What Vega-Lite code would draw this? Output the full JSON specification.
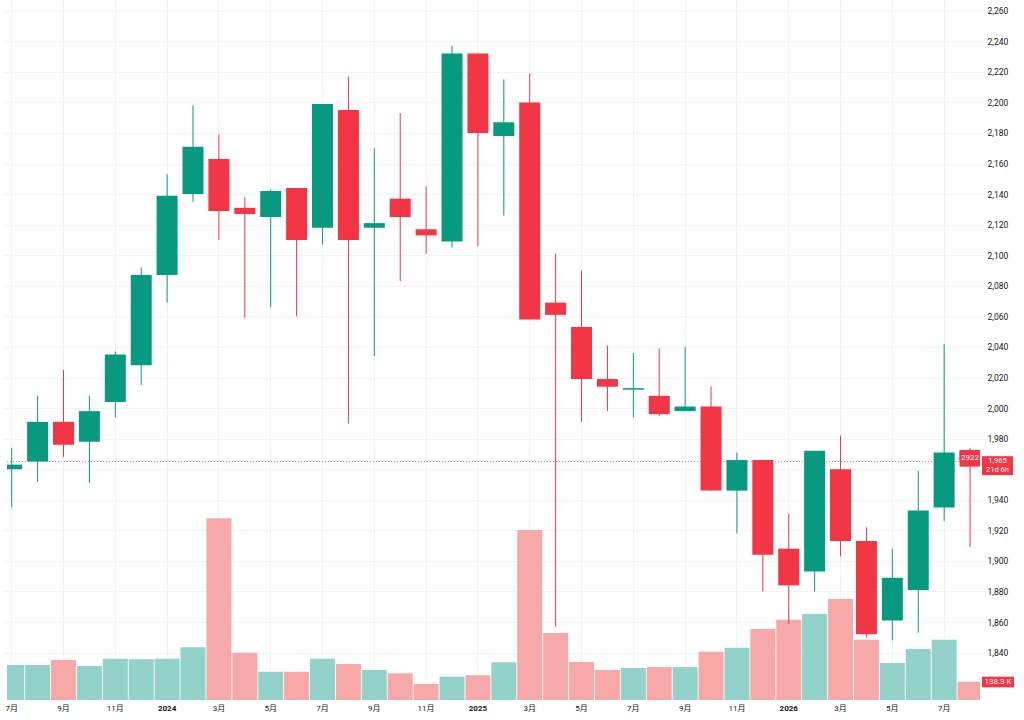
{
  "$schema": "https://vega.github.io/schema/vega-lite/v6.json",
  "width": 973,
  "height": 700,
  "autosize": {"type": "none"},
  "padding": {"left": 7, "top": 0, "right": 44, "bottom": 20},
  "background": "#ffffff",
  "config": {
    "view": {"stroke": null},
    "font": "Roboto, 'Noto Sans CJK SC', sans-serif"
  },
  "datasets": {
    "candles": [
      {"month": "2023-07", "open": 1960, "high": 1974, "low": 1935, "close": 1963, "volume": 265000},
      {"month": "2023-08", "open": 1965, "high": 2008, "low": 1952, "close": 1991, "volume": 265000},
      {"month": "2023-09", "open": 1991, "high": 2025, "low": 1968, "close": 1976, "volume": 302000},
      {"month": "2023-10", "open": 1978, "high": 2008, "low": 1951, "close": 1998, "volume": 257000},
      {"month": "2023-11", "open": 2004, "high": 2037, "low": 1994, "close": 2035, "volume": 312000},
      {"month": "2023-12", "open": 2028, "high": 2092, "low": 2015, "close": 2087, "volume": 308000},
      {"month": "2024-01", "open": 2087, "high": 2153, "low": 2069, "close": 2139, "volume": 312000},
      {"month": "2024-02", "open": 2140, "high": 2198, "low": 2135, "close": 2171, "volume": 398000},
      {"month": "2024-03", "open": 2163, "high": 2179, "low": 2110, "close": 2129, "volume": 1374000},
      {"month": "2024-04", "open": 2131, "high": 2138, "low": 2059, "close": 2127, "volume": 358000},
      {"month": "2024-05", "open": 2125, "high": 2143, "low": 2066, "close": 2142, "volume": 214000},
      {"month": "2024-06", "open": 2144, "high": 2144, "low": 2060, "close": 2110, "volume": 214000},
      {"month": "2024-07", "open": 2118, "high": 2199, "low": 2107, "close": 2199, "volume": 312000},
      {"month": "2024-08", "open": 2195, "high": 2217, "low": 1990, "close": 2110, "volume": 272000},
      {"month": "2024-09", "open": 2118, "high": 2170, "low": 2034, "close": 2121, "volume": 227000},
      {"month": "2024-10", "open": 2137, "high": 2193, "low": 2083, "close": 2125, "volume": 202000},
      {"month": "2024-11", "open": 2117, "high": 2145, "low": 2101, "close": 2113, "volume": 121000},
      {"month": "2024-12", "open": 2109, "high": 2237, "low": 2105, "close": 2232, "volume": 176000},
      {"month": "2025-01", "open": 2232, "high": 2232, "low": 2106, "close": 2180, "volume": 187000},
      {"month": "2025-02", "open": 2178, "high": 2215, "low": 2126, "close": 2187, "volume": 285000},
      {"month": "2025-03", "open": 2200, "high": 2219, "low": 2058, "close": 2058, "volume": 1285000},
      {"month": "2025-04", "open": 2069, "high": 2101, "low": 1857, "close": 2061, "volume": 506000},
      {"month": "2025-05", "open": 2053, "high": 2090, "low": 1991, "close": 2019, "volume": 287000},
      {"month": "2025-06", "open": 2019, "high": 2041, "low": 1998, "close": 2014, "volume": 227000},
      {"month": "2025-07", "open": 2012, "high": 2036, "low": 1994, "close": 2013, "volume": 242000},
      {"month": "2025-08", "open": 2008, "high": 2039, "low": 1995, "close": 1996, "volume": 249000},
      {"month": "2025-09", "open": 1998, "high": 2040, "low": 1998, "close": 2001, "volume": 249000},
      {"month": "2025-10", "open": 2001, "high": 2014, "low": 1946, "close": 1946, "volume": 365000},
      {"month": "2025-11", "open": 1946, "high": 1971, "low": 1918, "close": 1966, "volume": 395000},
      {"month": "2025-12", "open": 1966, "high": 1966, "low": 1880, "close": 1904, "volume": 537000},
      {"month": "2026-01", "open": 1908, "high": 1931, "low": 1859, "close": 1884, "volume": 607000},
      {"month": "2026-02", "open": 1893, "high": 1972, "low": 1880, "close": 1972, "volume": 650000},
      {"month": "2026-03", "open": 1960, "high": 1982, "low": 1903, "close": 1913, "volume": 764000},
      {"month": "2026-04", "open": 1913, "high": 1922, "low": 1850, "close": 1852, "volume": 456000},
      {"month": "2026-05", "open": 1861, "high": 1908, "low": 1848, "close": 1889, "volume": 280000},
      {"month": "2026-06", "open": 1881, "high": 1959, "low": 1853, "close": 1933, "volume": 386000},
      {"month": "2026-07", "open": 1935, "high": 2042, "low": 1926, "close": 1971, "volume": 456000},
      {"month": "2026-08", "open": 1972, "high": 1974, "low": 1909, "close": 1965, "volume": 138300}
    ],
    "last": [
      {"month": "2026-08", "price": 1965, "volume": 138300, "volume_text": "138.3 K", "timer": "21d 6h", "count": "2922"}
    ]
  },
  "layer": [
    {
      "layer": [
        {
          "data": {"name": "candles"},
          "mark": {"type": "bar", "size": 25, "clip": true},
          "encoding": {
            "x": {
              "field": "month",
              "type": "ordinal",
              "title": null,
              "scale": {"type": "band", "range": [-8.25, 976], "paddingInner": 0, "paddingOuter": 0},
              "axis": {
                "values": ["2023-07", "2023-09", "2023-11", "2024-01", "2024-03", "2024-05", "2024-07", "2024-09", "2024-11", "2025-01", "2025-03", "2025-05", "2025-07", "2025-09", "2025-11", "2026-01", "2026-03", "2026-05", "2026-07"],
                "labelExpr": "substring(datum.value, 5, 7) == '01' ? substring(datum.value, 0, 4) : toNumber(substring(datum.value, 5, 7)) + '月'",
                "labelFontWeight": {"condition": {"test": "substring(datum.value, 5, 7) == '01'", "value": "bold"}, "value": "normal"},
                "labelAngle": 0,
                "labelFontSize": 8,
                "labelColor": "#131722",
                "labelPadding": 4,
                "ticks": false,
                "domain": false,
                "grid": true,
                "gridColor": "#f0f3fa",
                "bandPosition": 0.5
              }
            },
            "y": {
              "field": "volume",
              "type": "quantitative",
              "scale": {"domain": [0, 5292000], "nice": false},
              "axis": null
            },
            "color": {
              "condition": {"test": "datum.close >= datum.open", "value": "#92d2c8"},
              "value": "#f7a9a9"
            }
          }
        },
        {
          "data": {"name": "last"},
          "mark": {"type": "rect", "color": "#f23645", "xOffset": 2, "x2Offset": 34, "yOffset": -5, "y2Offset": 5.6},
          "encoding": {
            "x": {"value": "width"},
            "x2": {"value": "width"},
            "y": {"field": "volume", "type": "quantitative"},
            "y2": {"field": "volume"}
          }
        },
        {
          "data": {"name": "last"},
          "mark": {"type": "text", "color": "#ffffff", "fontSize": 8, "align": "center", "baseline": "middle", "dx": 18},
          "encoding": {
            "x": {"value": "width"},
            "y": {"field": "volume", "type": "quantitative"},
            "text": {"field": "volume_text"}
          }
        }
      ]
    },
    {
      "layer": [
        {
          "data": {"name": "last"},
          "mark": {"type": "rule", "color": "#f23645", "strokeDash": [1, 2], "opacity": 0.7},
          "encoding": {
            "y": {
              "field": "price",
              "type": "quantitative",
              "scale": {"domain": [1809, 2267], "nice": false, "zero": false},
              "axis": {
                "orient": "right",
                "title": null,
                "values": [1840, 1860, 1880, 1900, 1920, 1940, 1960, 1980, 2000, 2020, 2040, 2060, 2080, 2100, 2120, 2140, 2160, 2180, 2200, 2220, 2240, 2260],
                "tickCount": 40,
                "format": ",d",
                "labelAlign": "left",
                "labelPadding": 7,
                "labelFontSize": 8.5,
                "labelColor": "#131722",
                "labelOverlap": false,
                "ticks": false,
                "domain": false,
                "grid": true,
                "gridColor": "#f0f3fa"
              }
            }
          }
        },
        {
          "data": {"name": "candles"},
          "mark": {"type": "rule", "strokeWidth": 1},
          "encoding": {
            "x": {"field": "month", "type": "ordinal"},
            "y": {"field": "low", "type": "quantitative"},
            "y2": {"field": "high"},
            "color": {
              "condition": {"test": "datum.close >= datum.open", "value": "#089981"},
              "value": "#f23645"
            }
          }
        },
        {
          "data": {"name": "candles"},
          "mark": {"type": "bar", "size": 21, "clip": true},
          "encoding": {
            "x": {"field": "month", "type": "ordinal"},
            "y": {"field": "open", "type": "quantitative"},
            "y2": {"field": "close"},
            "color": {
              "condition": {"test": "datum.close >= datum.open", "value": "#089981"},
              "value": "#f23645"
            }
          }
        },
        {
          "data": {"name": "last"},
          "mark": {"type": "bar", "size": 21, "color": "#f23645", "yOffset": -11.6, "y2Offset": 5.1, "clip": true},
          "encoding": {
            "x": {"field": "month", "type": "ordinal"},
            "y": {"field": "price", "type": "quantitative"},
            "y2": {"field": "price"}
          }
        },
        {
          "data": {"name": "last"},
          "mark": {"type": "text", "color": "#ffffff", "fontSize": 8, "align": "center", "baseline": "middle", "dy": -3.6},
          "encoding": {
            "x": {"field": "month", "type": "ordinal"},
            "y": {"field": "price", "type": "quantitative"},
            "text": {"field": "count"}
          }
        },
        {
          "data": {"name": "last"},
          "mark": {"type": "rect", "color": "#f23645", "xOffset": 2, "x2Offset": 33, "yOffset": -5.4, "y2Offset": 13.6},
          "encoding": {
            "x": {"value": "width"},
            "x2": {"value": "width"},
            "y": {"field": "price", "type": "quantitative"},
            "y2": {"field": "price"}
          }
        },
        {
          "data": {"name": "last"},
          "mark": {"type": "text", "color": "#ffffff", "fontSize": 7.5, "align": "center", "baseline": "middle", "dx": 17.5, "dy": -0.6},
          "encoding": {
            "x": {"value": "width"},
            "y": {"field": "price", "type": "quantitative"},
            "text": {"field": "price", "type": "quantitative", "format": ",d"}
          }
        },
        {
          "data": {"name": "last"},
          "mark": {"type": "text", "color": "#ffffff", "fontSize": 7.5, "align": "center", "baseline": "middle", "dx": 17.5, "dy": 8.4},
          "encoding": {
            "x": {"value": "width"},
            "y": {"field": "price", "type": "quantitative"},
            "text": {"field": "timer"}
          }
        }
      ]
    }
  ],
  "resolve": {"scale": {"y": "independent"}}
}
